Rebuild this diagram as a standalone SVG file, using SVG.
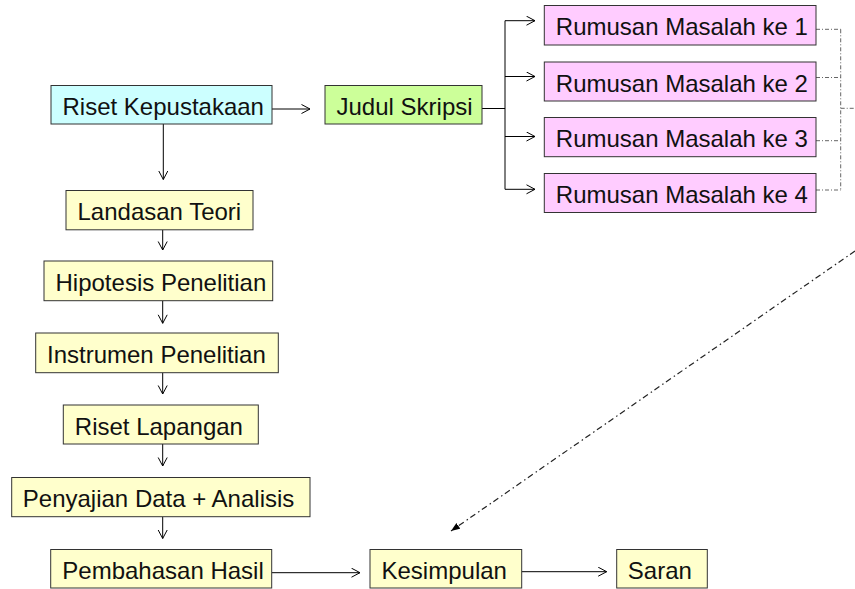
<svg xmlns="http://www.w3.org/2000/svg" width="855" height="589" viewBox="0 0 855 589">
<style>
.box{stroke:#333;stroke-width:1}
.y{fill:#FFFFCC}.c{fill:#CCFFFF}.g{fill:#CCFF99}.p{fill:#FFCCFF}
text{font-family:"Liberation Sans",Arial,sans-serif;font-size:24px;fill:#111}
.ln{stroke:#000;stroke-width:1;fill:none}
.dd{stroke:#666;stroke-width:1;fill:none;stroke-dasharray:4,2,1,2}
.dg{stroke:#222;stroke-width:1.2;fill:none;stroke-dasharray:6,3,1.5,3.5}
</style>
<defs>
<marker id="a" markerUnits="userSpaceOnUse" markerWidth="12" markerHeight="12" refX="9" refY="5" orient="auto">
<path d="M0.5,0.5 L9,5 L0.5,9.5" fill="none" stroke="#000" stroke-width="1"/>
</marker>
<marker id="f" markerUnits="userSpaceOnUse" markerWidth="12" markerHeight="10" refX="9" refY="3.5" orient="auto">
<path d="M0,0 L9,3.5 L0,7 z" fill="#000"/>
</marker>
</defs>
<g id="connectors">
<line class="ln" x1="272" y1="109" x2="310" y2="109" marker-end="url(#a)"/>
<polyline class="ln" points="482,108.5 505,108.5"/>
<line class="ln" x1="505" y1="20.7" x2="505" y2="189.3"/>
<line class="ln" x1="505" y1="20.7" x2="535" y2="20.7" marker-end="url(#a)"/>
<line class="ln" x1="505" y1="76.5" x2="535" y2="76.5" marker-end="url(#a)"/>
<line class="ln" x1="505" y1="136.5" x2="535" y2="136.5" marker-end="url(#a)"/>
<line class="ln" x1="505" y1="189.3" x2="535" y2="189.3" marker-end="url(#a)"/>
<line class="dd" x1="816" y1="29.3" x2="840.7" y2="29.3"/>
<line class="dd" x1="816" y1="77.5" x2="840.7" y2="77.5"/>
<line class="dd" x1="816" y1="140.7" x2="840.7" y2="140.7"/>
<line class="dd" x1="816" y1="190" x2="840.7" y2="190"/>
<line class="dd" x1="840.7" y1="29.3" x2="840.7" y2="190"/>
<line class="dd" x1="840.7" y1="108.3" x2="855" y2="108.3"/>
<line class="dg" x1="855" y1="251" x2="451" y2="531" marker-end="url(#f)"/>
<line class="ln" x1="163.3" y1="124" x2="163.3" y2="179.5" marker-end="url(#a)"/>
<line class="ln" x1="162.7" y1="230" x2="162.7" y2="250" marker-end="url(#a)"/>
<line class="ln" x1="162.7" y1="300.7" x2="162.7" y2="323.3" marker-end="url(#a)"/>
<line class="ln" x1="162.7" y1="372.7" x2="162.7" y2="394" marker-end="url(#a)"/>
<line class="ln" x1="162.7" y1="444" x2="162.7" y2="466" marker-end="url(#a)"/>
<line class="ln" x1="162.7" y1="516.7" x2="162.7" y2="538.5" marker-end="url(#a)"/>
<line class="ln" x1="271.7" y1="572.7" x2="360" y2="572.7" marker-end="url(#a)"/>
<line class="ln" x1="521.7" y1="571.7" x2="606.7" y2="571.7" marker-end="url(#a)"/>
</g>
<g id="riset-kepustakaan"><rect class="box c" x="51" y="85.5" width="221" height="38.5"/><text x="62.5" y="115">Riset Kepustakaan</text></g>
<g id="judul-skripsi"><rect class="box g" x="325" y="85.5" width="157" height="38.5"/><text x="336.5" y="115">Judul Skripsi</text></g>
<g id="rm1"><rect class="box p" x="544.3" y="5.5" width="271.7" height="39.5"/><text x="555.8" y="35">Rumusan Masalah ke 1</text></g>
<g id="rm2"><rect class="box p" x="544.3" y="62" width="271.7" height="39"/><text x="555.8" y="91.5">Rumusan Masalah ke 2</text></g>
<g id="rm3"><rect class="box p" x="544.3" y="117.5" width="271.7" height="39.2"/><text x="555.8" y="147">Rumusan Masalah ke 3</text></g>
<g id="rm4"><rect class="box p" x="544.3" y="173.5" width="271.7" height="39"/><text x="555.8" y="203">Rumusan Masalah ke 4</text></g>
<g id="landasan-teori"><rect class="box y" x="66" y="190.5" width="187" height="39.3"/><text x="77.5" y="220">Landasan Teori</text></g>
<g id="hipotesis"><rect class="box y" x="44" y="261" width="228.7" height="39.7"/><text x="55.5" y="291">Hipotesis Penelitian</text></g>
<g id="instrumen"><rect class="box y" x="35.7" y="333" width="242.6" height="39.7"/><text x="47" y="363">Instrumen Penelitian</text></g>
<g id="riset-lapangan"><rect class="box y" x="63.3" y="405" width="195" height="39"/><text x="74.8" y="435">Riset Lapangan</text></g>
<g id="penyajian"><rect class="box y" x="11.7" y="477.5" width="298.3" height="39.2"/><text x="22.8" y="507">Penyajian Data + Analisis</text></g>
<g id="pembahasan"><rect class="box y" x="50.7" y="549.5" width="221" height="38.5"/><text x="62.3" y="579">Pembahasan Hasil</text></g>
<g id="kesimpulan"><rect class="box y" x="370" y="549.5" width="151.7" height="38.5"/><text x="381.5" y="579">Kesimpulan</text></g>
<g id="saran"><rect class="box y" x="616.7" y="549.5" width="90.6" height="38.5"/><text x="627.8" y="579">Saran</text></g>
</svg>
